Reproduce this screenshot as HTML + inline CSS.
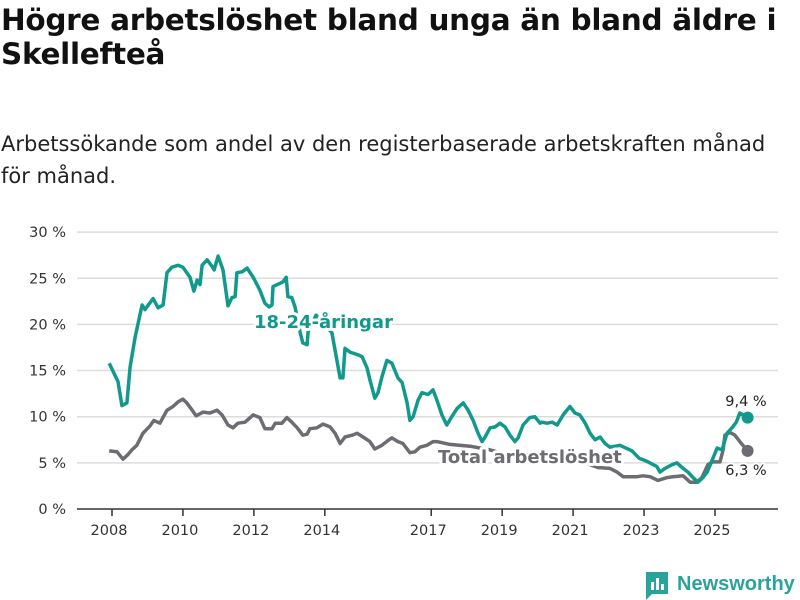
<!DOCTYPE html>
<html><head><meta charset="utf-8"><style>
body{margin:0;background:#fff;width:800px;height:600px;overflow:hidden;font-family:"DejaVu Sans","Liberation Sans",sans-serif;color:#111}
#title{position:absolute;left:1px;top:3px;font-size:29.5px;font-weight:bold;line-height:34px;margin:0;width:799px;letter-spacing:-0.3px}
#sub{position:absolute;left:1px;top:128px;font-size:21px;line-height:32px;width:799px;color:#222;letter-spacing:0px;white-space:nowrap}
svg{position:absolute;left:0;top:0}
</style></head><body>
<h1 id="title">Högre arbetslöshet bland unga än bland äldre i Skellefteå</h1>
<div id="sub">Arbetssökande som andel av den registerbaserade arbetskraften månad<br>för månad.</div>
<svg id="chart" width="800" height="600"></svg>
<script>
const yTicks=[0,5,10,15,20,25,30];
const yTickLabels=["0 %","5 %","10 %","15 %","20 %","25 %","30 %"];
const xTicks=[2008,2010,2012,2014,2017,2019,2021,2023,2025];
const youthT=[2007.92,2008.17,2008.28,2008.42,2008.51,2008.65,2008.85,2008.93,2009.16,2009.30,2009.44,2009.55,2009.69,2009.86,2010.00,2010.20,2010.31,2010.40,2010.48,2010.54,2010.68,2010.82,2010.88,2010.99,2011.13,2011.27,2011.38,2011.47,2011.52,2011.67,2011.81,2011.98,2012.17,2012.31,2012.43,2012.51,2012.54,2012.82,2012.91,2012.96,2013.07,2013.16,2013.30,2013.38,2013.50,2013.53,2013.75,2014.20,2014.43,2014.51,2014.57,2014.71,2014.94,2015.05,2015.19,2015.27,2015.41,2015.50,2015.61,2015.75,2015.89,2016.06,2016.18,2016.32,2016.40,2016.49,2016.63,2016.74,2016.91,2017.05,2017.16,2017.30,2017.44,2017.61,2017.73,2017.90,2018.04,2018.18,2018.32,2018.43,2018.52,2018.66,2018.80,2018.94,2019.08,2019.22,2019.36,2019.45,2019.59,2019.78,2019.92,2020.07,2020.12,2020.26,2020.41,2020.55,2020.72,2020.91,2021.05,2021.19,2021.34,2021.48,2021.62,2021.76,2021.90,2022.04,2022.32,2022.66,2022.86,2023.00,2023.11,2023.36,2023.45,2023.59,2023.79,2023.93,2024.10,2024.24,2024.38,2024.52,2024.66,2024.78,2024.92,2025.06,2025.20,2025.34,2025.48,2025.60,2025.70,2025.92];
const youthV=[15.8,13.8,11.2,11.5,15.4,18.6,22.1,21.6,22.8,21.8,22.1,25.6,26.2,26.4,26.2,25.1,23.6,24.8,24.3,26.4,27.0,26.3,25.9,27.4,25.9,22.0,22.9,23.0,25.6,25.7,26.1,25.1,23.7,22.3,21.9,22.1,24.1,24.6,25.1,23.0,22.9,21.9,19.2,18.0,17.8,19.2,21.0,19.1,14.2,14.2,17.4,17.0,16.7,16.5,15.3,14.0,12.0,12.6,14.3,16.1,15.8,14.2,13.7,11.5,9.6,10.0,11.8,12.6,12.4,12.9,11.8,10.2,9.1,10.2,10.9,11.5,10.7,9.6,8.2,7.3,7.8,8.8,8.9,9.3,8.9,8.0,7.3,7.7,9.1,9.9,10.0,9.3,9.4,9.3,9.4,9.1,10.2,11.1,10.4,10.2,9.3,8.2,7.5,7.8,7.1,6.7,6.9,6.3,5.5,5.3,5.1,4.6,4.0,4.4,4.8,5.0,4.4,4.0,3.4,2.9,3.4,4.0,5.3,6.6,6.4,8.2,8.8,9.4,10.4,9.9,9.4];
const totalT=[2007.92,2008.14,2008.31,2008.45,2008.56,2008.70,2008.87,2009.07,2009.18,2009.35,2009.55,2009.72,2009.86,2010.00,2010.11,2010.26,2010.37,2010.57,2010.76,2010.96,2011.10,2011.27,2011.41,2011.55,2011.75,2011.98,2012.17,2012.31,2012.51,2012.60,2012.79,2012.93,2013.07,2013.22,2013.38,2013.50,2013.58,2013.78,2013.95,2014.15,2014.29,2014.43,2014.57,2014.77,2014.91,2015.08,2015.27,2015.41,2015.61,2015.81,2015.89,2016.06,2016.20,2016.40,2016.54,2016.68,2016.88,2017.05,2017.16,2017.53,2018.09,2018.66,2019.22,2019.78,2020.35,2020.91,2021.34,2021.70,2022.04,2022.24,2022.41,2022.60,2022.80,2022.97,2023.17,2023.39,2023.65,2023.82,2024.10,2024.30,2024.49,2024.63,2024.80,2024.94,2025.14,2025.23,2025.28,2025.42,2025.56,2025.70,2025.92];
const totalV=[6.3,6.2,5.4,5.9,6.4,6.9,8.2,9.0,9.6,9.3,10.7,11.1,11.6,11.9,11.5,10.7,10.1,10.5,10.4,10.7,10.2,9.1,8.8,9.3,9.4,10.2,9.9,8.7,8.7,9.3,9.3,9.9,9.4,8.8,8.0,8.1,8.7,8.8,9.2,8.9,8.2,7.1,7.8,8.0,8.2,7.8,7.3,6.5,6.9,7.5,7.7,7.3,7.1,6.1,6.2,6.7,6.9,7.3,7.3,7.0,6.8,6.4,5.8,6.0,5.8,5.6,5.0,4.5,4.4,4.0,3.5,3.5,3.5,3.6,3.5,3.1,3.4,3.5,3.6,2.9,2.9,3.4,4.8,5.1,5.1,6.4,8.0,8.3,8.0,7.3,6.3];
const lastLabels=["9,4 %","6,3 %"];
const NS="http://www.w3.org/2000/svg";
const svg=document.getElementById('chart');
const X0=77,X1=778,Y0=509;
const xs=t=>112+(t-2008)*35.47;
const ys=v=>Y0-v*9.23;
function mk(tag,attrs,parent){const e=document.createElementNS(NS,tag);for(const k in attrs)e.setAttribute(k,attrs[k]);(parent||svg).appendChild(e);return e;}
yTicks.forEach((v,i)=>{
  if(v>0){const g=mk('line',{x1:X0,x2:X1,y1:ys(v),y2:ys(v),stroke:'#dcdcdc','stroke-width':1.5});
  
  }
  const t=mk('text',{x:66,y:ys(v)+5,'text-anchor':'end','font-size':14.5,fill:'#333'});
  t.textContent=yTickLabels[i];
  
  
});
const base=mk('line',{x1:X0,x2:X1,y1:Y0,y2:Y0,stroke:'#333','stroke-width':1.5});


xTicks.forEach(y=>{
  const tk=mk('line',{x1:xs(y),x2:xs(y),y1:Y0,y2:Y0+7,stroke:'#333','stroke-width':1.5});
  
  
  const t=mk('text',{x:xs(y)-3,y:Y0+26,'text-anchor':'middle','font-size':14.5,fill:'#333'});
  t.textContent=y;
  
  
});
function line(T,V,col,name){
  const d=T.map((t,i)=>(i?'L':'M')+xs(t).toFixed(1)+','+ys(V[i]).toFixed(1)).join('');
  const p=mk('path',{d:d,fill:'none',stroke:col,'stroke-width':3.5,'stroke-linejoin':'round'});
  
  
  const n=T.length-1;
  const c=mk('circle',{cx:xs(T[n]),cy:ys(V[n]),r:6,fill:col});
  
  
}
line(totalT,totalV,'#6d6c72','total-line');
line(youthT,youthV,'#119a8c','youth-line');
function lab(x,y,txt,col,name,size,bold,anchor){
  const t=mk('text',{x:x,y:y,fill:col,'font-size':size,'font-weight':bold?'bold':'normal','text-anchor':anchor||'start',stroke:'#fff','stroke-width':bold?6:4,'paint-order':'stroke','stroke-linejoin':'round'});
  t.textContent=txt;
  
  
}
lab(254,328,'18-24-åringar','#119a8c','youth-series-label',18,true);
lab(438,463,'Total arbetslöshet','#6d6c72','total-series-label',18,true);
lab(746,406,lastLabels[0],'#222','youth-last-value',14.5,false,'middle');
lab(746,475,lastLabels[1],'#222','total-last-value',14.5,false,'middle');
const lg=mk('g',{});


mk('path',{d:'M646,572 h22 v22 h-16 l-6,6 z',fill:'#2aa39a'},lg);
mk('rect',{x:651,y:582,width:3,height:8,fill:'#fff'},lg);
mk('rect',{x:656,y:578,width:3,height:12,fill:'#fff'},lg);
mk('rect',{x:661,y:584,width:3,height:6,fill:'#fff'},lg);
const lt=mk('text',{x:677,y:590,'font-size':20,'font-weight':'bold',fill:'#2aa39a','font-family':'Liberation Sans, sans-serif'},lg);
lt.textContent='Newsworthy';
</script>
</body></html>
